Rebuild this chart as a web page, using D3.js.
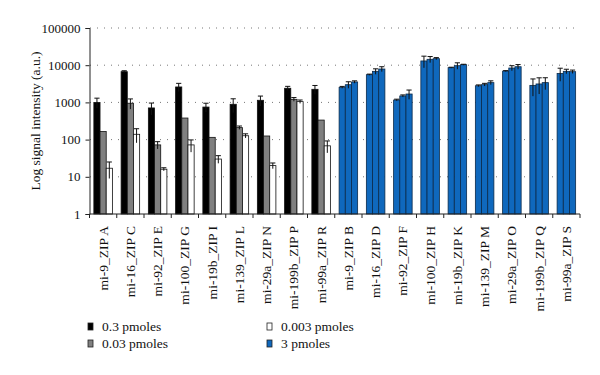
<!DOCTYPE html>
<html>
<head>
<meta charset="utf-8">
<script src="https://cdn.jsdelivr.net/npm/d3@7"></script>
<style>
  body { margin: 0; background: #fff; }
  text { font-family: "Liberation Serif", "DejaVu Serif", serif; fill: #111; }
</style>
</head>
<body>
<div id="chart"></div>
<script>
// categories on the x axis
const categories = [
    "mi-9_ZIP A", "mi-16_ZIP C", "mi-92_ZIP E", "mi-100_ZIP G", "mi-19b_ZIP I",
    "mi-139_ZIP L", "mi-29a_ZIP N", "mi-199b_ZIP P", "mi-99a_ZIP R",
    "mi-9_ZIP B", "mi-16_ZIP D", "mi-92_ZIP F", "mi-100_ZIP H", "mi-19b_ZIP K",
    "mi-139_ZIP M", "mi-29a_ZIP O", "mi-199b_ZIP Q", "mi-99a_ZIP S"
];
// first 9 categories: three doses, last 9: three replicates at 3 pmoles
const dose = ["low", "low", "low", "low", "low", "low", "low", "low", "low",
    "high", "high", "high", "high", "high", "high", "high", "high", "high"];

// bar 1 / 2 / 3 of each group
const bar1 = [1000, 6700, 710, 2600, 750, 890, 1140, 2400, 2250,
    2540, 5560, 1160, 13000, 8570, 2800, 6950, 2870, 6000];
const bar2 = [165, 950, 72, 380, 115, 210, 125, 1210, 335,
    2990, 6840, 1490, 14400, 9700, 3000, 8400, 3130, 6840];
const bar3 = [17, 139, 16, 72, 30, 127, 20, 1050, 68,
    3540, 7900, 1680, 15000, 10300, 3400, 9100, 3400, 6700];
const err1 = [300, 400, 250, 650, 200, 360, 340, 300, 600,
    150, 200, 60, 4500, 250, 150, 200, 1400, 2300];
const err2 = [0, 290, 16, 0, 0, 22, 0, 140, 0,
    600, 1150, 100, 2700, 1900, 250, 1300, 1450, 950];
const err3 = [8, 57, 1.5, 26, 7, 16, 3.5, 110, 24,
    260, 1200, 470, 1000, 300, 400, 1300, 1200, 700];

const yTicks = [1, 10, 100, 1000, 10000, 100000];
const legendLabels = ["0.3 pmoles", "0.03 pmoles", "0.003 pmoles", "3 pmoles"];
const lowColors = ["#000000", "#808080", "#ffffff"];
const blue = "#0f68bd";

const width = 600, height = 375;
const svg = d3.select("#chart").append("svg")
    .attr("width", width).attr("height", height);

const x = d3.scaleBand().domain(categories).range([89.5, 580]);
const xSub = d3.scaleBand().domain([0, 1, 2])
    .range([x.bandwidth() * 0.16, x.bandwidth() * 0.84]);
const y = d3.scaleLog().domain([1, 100000]).range([214, 28]);

// gridlines
svg.append("g").selectAll("line")
    .data(yTicks.slice(1))
    .join("line")
    .attr("x1", 90).attr("x2", 580)
    .attr("y1", d => y(d)).attr("y2", d => y(d))
    .attr("stroke", "#777")
    .attr("stroke-width", 1)
    .attr("stroke-dasharray", "1,6");

// y axis
const yAxis = svg.append("g")
    .attr("transform", "translate(89.5,0)")
    .call(d3.axisLeft(y).tickValues(yTicks).tickFormat(d3.format("d")).tickSize(4).tickPadding(5));
yAxis.select(".domain").attr("stroke", "#222");
yAxis.selectAll(".tick line").attr("stroke", "#222");
yAxis.selectAll("text").style("font-size", "13px");

// bars
const rows = categories.map((c, i) => ({
    cat: c, dose: dose[i],
    bars: [bar1[i], bar2[i], bar3[i]].map((v, j) => ({
        j, v, e: [err1[i], err2[i], err3[i]][j]
    }))
}));

const groups = svg.append("g").selectAll("g")
    .data(rows)
    .join("g")
    .attr("transform", d => `translate(${x(d.cat)},0)`);

groups.selectAll("rect")
    .data(d => d.bars.map(b => ({...b, dose: d.dose})))
    .join("rect")
    .attr("x", d => xSub(d.j))
    .attr("width", xSub.bandwidth())
    .attr("y", d => y(d.v))
    .attr("height", d => y(1) - y(d.v))
    .attr("fill", d => d.dose === "low" ? lowColors[d.j] : blue)
    .attr("stroke", d => d.dose === "low" ? "#111" : "#0b2a4a")
    .attr("stroke-width", 0.8);

// error bars
const eb = groups.selectAll("g.err")
    .data(d => d.bars.filter(b => b.e > 0))
    .join("g")
    .attr("class", "err")
    .attr("stroke", "#111")
    .attr("stroke-width", 1);
eb.append("line")
    .attr("x1", d => xSub(d.j) + xSub.bandwidth() / 2)
    .attr("x2", d => xSub(d.j) + xSub.bandwidth() / 2)
    .attr("y1", d => y(Math.max(1, d.v - d.e)))
    .attr("y2", d => y(d.v + d.e));
eb.append("line")
    .attr("x1", d => xSub(d.j) + 0.5)
    .attr("x2", d => xSub(d.j) + xSub.bandwidth() - 0.5)
    .attr("y1", d => y(d.v + d.e))
    .attr("y2", d => y(d.v + d.e));

// x axis with ticks at the group boundaries
const xg = svg.append("g");
xg.append("line")
    .attr("x1", 89.5).attr("x2", 580)
    .attr("y1", y(1)).attr("y2", y(1))
    .attr("stroke", "#222");
xg.selectAll("line.tick")
    .data(categories.map(c => x(c)).concat([x.range()[1]]))
    .join("line")
    .attr("class", "tick")
    .attr("x1", d => d).attr("x2", d => d)
    .attr("y1", y(1)).attr("y2", y(1) + 4)
    .attr("stroke", "#222");
xg.selectAll("text")
    .data(categories)
    .join("text")
    .attr("transform", d => `translate(${x(d) + x.bandwidth() / 2 + 4.5},${y(1) + 12}) rotate(-90)`)
    .attr("text-anchor", "end")
    .style("font-size", "13.5px")
    .text(d => d);

// y axis title
svg.append("text")
    .attr("transform", "translate(40,121) rotate(-90)")
    .attr("text-anchor", "middle")
    .style("font-size", "13.5px")
    .text("Log signal intensity (a.u.)");

// legend
const legendFill = [lowColors[0], lowColors[1], lowColors[2], blue];
const legend = svg.append("g").selectAll("g")
    .data(legendLabels)
    .join("g")
    .attr("transform", (d, i) => `translate(${i < 2 ? 88 : 267},${i % 2 === 0 ? 323 : 340})`);
legend.append("rect")
    .attr("width", 5).attr("height", 7)
    .attr("fill", (d, i) => legendFill[i])
    .attr("stroke", "#222")
    .attr("stroke-width", 0.8);
legend.append("text")
    .attr("x", 14).attr("y", 7.5)
    .style("font-size", "13.5px")
    .text(d => d);
</script>
</body>
</html>
